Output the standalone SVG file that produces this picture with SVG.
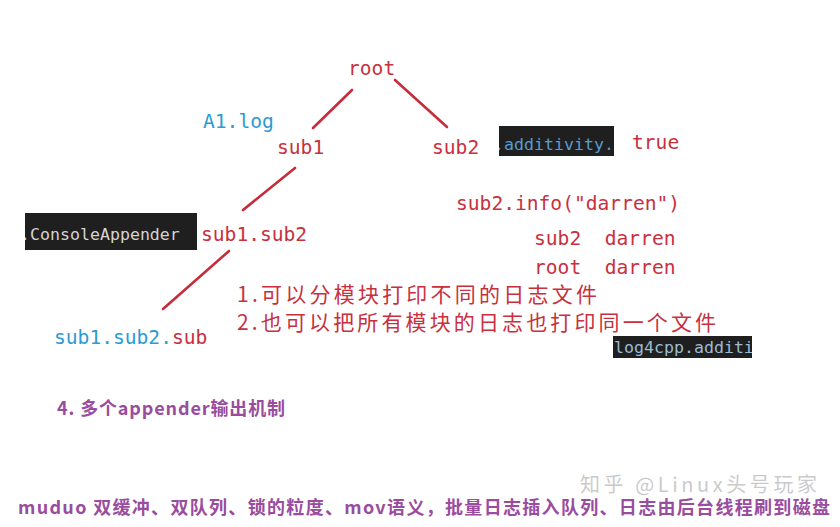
<svg xmlns="http://www.w3.org/2000/svg" width="840" height="527" viewBox="0 0 840 527">
  <style>
    .mono { font-family: "DejaVu Sans Mono", "Liberation Mono", monospace; font-size: 19.6px; fill: #c9303e; }
    .blue { fill: #2b9bd3; }
    .code { font-family: "DejaVu Sans Mono", "Liberation Mono", monospace; font-size: 16.6px; }
    .codebox { fill: #1f1f1f; }
    .cn { font-family: "Noto Sans CJK SC", "Noto Sans", sans-serif; font-size: 21px; fill: #c9303e; }
    .purple { font-family: "Noto Sans CJK SC", "Noto Sans", sans-serif; font-weight: bold; fill: #9a4c9f; }
    .edge { stroke: #c62c3a; stroke-width: 2.6; stroke-linecap: round; fill: none; }
    .wm { font-family: "Noto Sans CJK SC", "Noto Sans", sans-serif; font-size: 20px; fill: #b8b8b8; fill-opacity: 0.75; }
  </style>
  <defs>
    <clipPath id="clipConsole"><rect x="25" y="213" width="172" height="37"/></clipPath>
    <clipPath id="clipAdd"><rect x="499" y="126" width="115" height="30"/></clipPath>
    <clipPath id="clipLog"><rect x="613" y="336" width="139" height="22"/></clipPath>
  </defs>
  <rect width="840" height="527" fill="#ffffff"/>

  <g id="connectors">
    <line class="edge" x1="352" y1="90" x2="313" y2="128"/>
    <line class="edge" x1="395" y1="80" x2="447" y2="127"/>
    <line class="edge" x1="295" y1="168" x2="243" y2="210"/>
    <line class="edge" x1="229" y1="251" x2="163" y2="309"/>
  </g>

  <g id="node-root"><text class="mono" x="348" y="75">root</text></g>
  <g id="label-a1log"><text class="mono blue" x="203" y="128">A1.log</text></g>
  <g id="node-sub1"><text class="mono" x="277" y="154">sub1</text></g>
  <g id="node-sub2"><text class="mono" x="432" y="154">sub2</text></g>

  <g id="additivity-box">
    <rect class="codebox" x="499" y="126" width="115" height="30"/>
    <text class="code" x="494" y="150" fill="#569cd6" clip-path="url(#clipAdd)">.additivity.</text>
  </g>
  <g id="label-true"><text class="mono" x="632" y="149">true</text></g>

  <g id="console-box">
    <rect class="codebox" x="25" y="213" width="172" height="37"/>
    <text class="code" x="20" y="240" fill="#d4d4d4" font-size="17.4px" clip-path="url(#clipConsole)">.ConsoleAppender</text>
  </g>
  <g id="node-sub1-sub2"><text class="mono" x="201" y="241">sub1.sub2</text></g>
  <g id="node-sub1-sub2-sub"><text class="mono" x="54" y="344"><tspan class="blue">sub1.sub2.</tspan>sub</text></g>

  <g id="info-text">
    <text class="mono" x="456" y="210">sub2.info("darren")</text>
    <text class="mono" x="534" y="245" xml:space="preserve">sub2  darren</text>
    <text class="mono" x="534" y="274" xml:space="preserve">root  darren</text>
  </g>

  <g id="notes">
    <text class="cn" x="237" y="302" textLength="360" lengthAdjust="spacing">1.可以分模块打印不同的日志文件</text>
    <text class="cn" x="237" y="330" textLength="479" lengthAdjust="spacing">2.也可以把所有模块的日志也打印同一个文件</text>
  </g>

  <g id="log4cpp-box">
    <rect class="codebox" x="613" y="336" width="139" height="22"/>
    <text class="code" x="614" y="353" fill="#9abbd6" clip-path="url(#clipLog)">log4cpp.additi</text>
  </g>

  <g id="appender-note">
    <text class="purple" x="57" y="415" font-size="18px" textLength="228" lengthAdjust="spacing">4. 多个appender输出机制</text>
  </g>

  <g id="watermark">
    <text class="wm" x="580" y="492" textLength="237" lengthAdjust="spacing">知乎 @Linux头号玩家</text>
  </g>

  <g id="bottom-note">
    <text class="purple" x="18" y="514" font-size="18px" textLength="812" lengthAdjust="spacing">muduo 双缓冲、双队列、锁的粒度、mov语义，批量日志插入队列、日志由后台线程刷到磁盘</text>
  </g>
</svg>
